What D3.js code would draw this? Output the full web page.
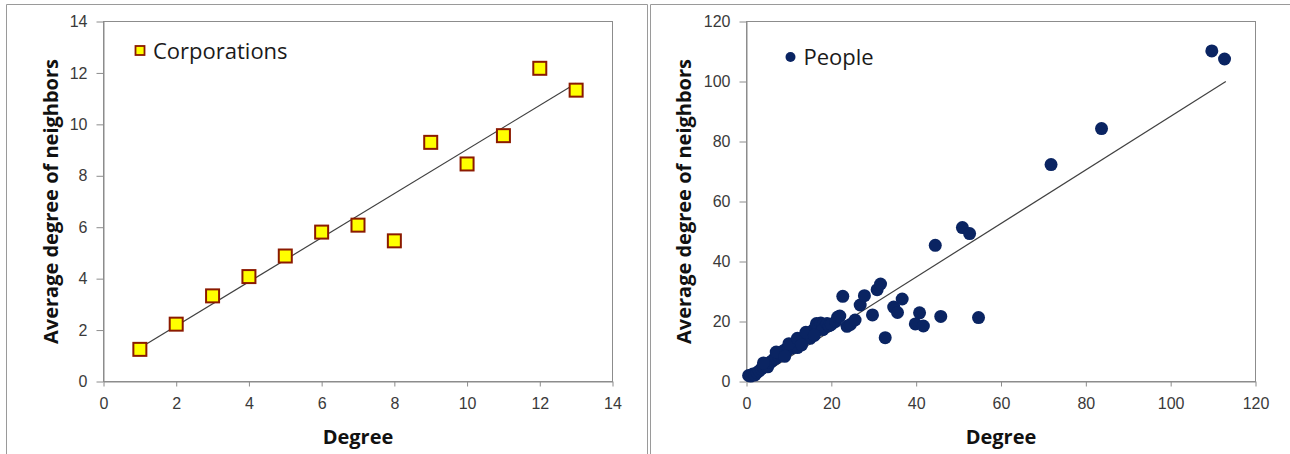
<!DOCTYPE html>
<html>
<head>
<meta charset="utf-8">
<script src="https://cdn.jsdelivr.net/npm/d3@7"></script>
<style>
  body { margin: 0; background: #fff; }
  svg { display: block; font-family: "Open Sans", Lato, sans-serif; }
  .tick text { fill: #3a3a3a; font-size: 16px; }
  .tick line, .domain { stroke: #8c8c8c; }
</style>
</head>
<body>
<svg id="chart" width="1290" height="454"></svg>
<script>
// left panel: corporations
var corpDegree = [1, 2, 3, 4, 5, 6, 7, 8, 9, 10, 11, 12, 13];
var corpNeighbors = [1.25, 2.23, 3.33, 4.08, 4.88, 5.81, 6.08, 5.47, 9.3, 8.46, 9.56, 12.18, 11.33];
var corpTrendX = [1, 13];
var corpTrendY = [1.3, 11.6];
var corpTicksX = [0, 2, 4, 6, 8, 10, 12, 14];
var corpTicksY = [0, 2, 4, 6, 8, 10, 12, 14];

// right panel: people
var peopleDegree = [
  0.5, 1, 1.5, 2, 2.5, 3, 3.5, 4, 4.5, 5, 5, 5.5, 6, 6.5, 7, 7.5, 8, 8.5, 9, 9, 9.5, 10,
  10.5, 11, 11.5, 12, 12, 12.5, 13, 13.5, 14, 14.5, 15, 15, 15.5, 16, 16.5, 17, 17.5, 18,
  18, 19, 19.5, 20, 21, 21.5, 22,
  4, 7, 10, 12, 14, 9, 13, 16,
  22.7, 23.7, 24.5, 25.6, 26.8, 27.8, 29.7, 30.8, 31.6, 32.7, 34.7, 35.6, 36.7, 39.8,
  40.8, 41.7, 44.5, 45.8, 50.9, 52.6, 54.7, 71.8, 83.7, 109.7, 112.7
];
var peopleNeighbors = [
  2.0, 1.8, 2.5, 2.2, 3.0, 3.5, 4.2, 4.8, 5.2, 5.8, 4.9, 6.3, 6.8, 7.5, 7.8, 8.6, 9.2, 10.0, 10.5, 8.8, 10.2, 11.2,
  11.0, 12.2, 12.8, 12.3, 11.3, 13.5, 14.3, 14.0, 15.5, 15.0, 16.2, 14.4, 16.8, 17.5, 19.3, 18.2, 19.5, 18.8,
  17.3, 19.3, 18.6, 19.0, 20.0, 21.5, 21.8,
  6.2, 9.8, 12.6, 14.4, 16.4, 8.4, 12.2, 15.4,
  28.4, 18.4, 19.0, 20.5, 25.5, 28.6, 22.2, 30.6, 32.5, 14.6, 24.8, 23.0, 27.5, 19.2,
  22.9, 18.5, 45.4, 21.7, 51.3, 49.3, 21.3, 72.3, 84.3, 110.2, 107.5
];
var peopleTrendX = [1, 113];
var peopleTrendY = [0, 100];
var peopleTicksX = [0, 20, 40, 60, 80, 100, 120];
var peopleTicksY = [0, 20, 40, 60, 80, 100, 120];

var svg = d3.select("#chart");

// outer frames
svg.append("path")
  .attr("d", "M6.5,454 V4.5 H647.5 V454")
  .attr("fill", "none").attr("stroke", "#9a9a9a");
svg.append("path")
  .attr("d", "M650.5,454 V4.5 H1290")
  .attr("fill", "none").attr("stroke", "#9a9a9a");

function drawPanel(p) {
  var x = d3.scaleLinear().domain([0, p.xMax]).range([p.left, p.right]);
  var y = d3.scaleLinear().domain([0, p.yMax]).range([p.bottom, p.top]);

  // plot area border
  svg.append("rect")
    .attr("x", p.left).attr("y", p.top)
    .attr("width", p.right - p.left).attr("height", p.bottom - p.top)
    .attr("fill", "#fff").attr("stroke", "#8c8c8c");

  svg.append("g")
    .attr("transform", "translate(0," + p.bottom + ")")
    .call(d3.axisBottom(x).tickValues(p.ticksX).tickSize(5).tickPadding(11).tickSizeOuter(0));

  svg.append("g")
    .attr("transform", "translate(" + p.left + ",0)")
    .call(d3.axisLeft(y).tickValues(p.ticksY).tickSize(7).tickPadding(9).tickSizeOuter(0));

  // trend line
  svg.append("line")
    .attr("x1", x(p.trendX[0])).attr("y1", y(p.trendY[0]))
    .attr("x2", x(p.trendX[1])).attr("y2", y(p.trendY[1]))
    .attr("stroke", "#404040").attr("stroke-width", 1.2);

  var pts = p.xs.map(function(d, i) { return [d, p.ys[i]]; });
  if (p.square) {
    svg.append("g").selectAll("rect")
      .data(pts).enter().append("rect")
      .attr("x", function(d) { return x(d[0]) - 6.5; })
      .attr("y", function(d) { return y(d[1]) - 6.5; })
      .attr("width", 13).attr("height", 13)
      .attr("fill", "#ffff00").attr("stroke", "#8b1a00").attr("stroke-width", 2);
  } else {
    svg.append("g").selectAll("circle")
      .data(pts).enter().append("circle")
      .attr("cx", function(d) { return x(d[0]); })
      .attr("cy", function(d) { return y(d[1]); })
      .attr("r", 6.5)
      .attr("fill", "#0a2462");
  }

  // legend
  if (p.square) {
    svg.append("rect")
      .attr("x", p.legX - 4.5).attr("y", p.legY - 4.5)
      .attr("width", 9).attr("height", 9)
      .attr("fill", "#ffff00").attr("stroke", "#8b1a00").attr("stroke-width", 1.8);
  } else {
    svg.append("circle")
      .attr("cx", p.legX).attr("cy", p.legY).attr("r", 5)
      .attr("fill", "#0a2462");
  }
  svg.append("text")
    .attr("x", p.legX + 13).attr("y", p.legY + 8)
    .attr("font-size", 22).attr("fill", "#1a1a1a")
    .text(p.name);

  // axis titles
  svg.append("text")
    .attr("x", (p.left + p.right) / 2).attr("y", 444)
    .attr("text-anchor", "middle")
    .attr("font-size", 20).attr("font-weight", "bold").attr("fill", "#111")
    .text("Degree");

  svg.append("text")
    .attr("transform", "translate(" + p.titleY + "," + (p.top + p.bottom) / 2 + ") rotate(-90)")
    .attr("text-anchor", "middle")
    .attr("font-size", 20).attr("font-weight", "bold").attr("fill", "#111")
    .text("Average degree of neighbors");
}

drawPanel({
  name: "Corporations", square: true,
  xs: corpDegree, ys: corpNeighbors,
  trendX: corpTrendX, trendY: corpTrendY,
  ticksX: corpTicksX, ticksY: corpTicksY,
  xMax: 14, yMax: 14,
  left: 103.5, right: 612.5, top: 21.5, bottom: 381.5,
  legX: 140, legY: 50.5, titleY: 58
});

drawPanel({
  name: "People", square: false,
  xs: peopleDegree, ys: peopleNeighbors,
  trendX: peopleTrendX, trendY: peopleTrendY,
  ticksX: peopleTicksX, ticksY: peopleTicksY,
  xMax: 120, yMax: 120,
  left: 746.5, right: 1255.5, top: 21.5, bottom: 381.5,
  legX: 790.5, legY: 57, titleY: 691
});
</script>
</body>
</html>
